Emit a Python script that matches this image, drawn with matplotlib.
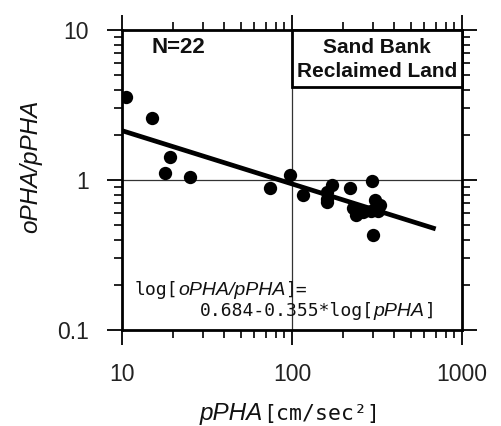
import matplotlib
matplotlib.use("Agg")
import matplotlib.pyplot as plt
from matplotlib.patches import Rectangle
from matplotlib.ticker import FixedLocator, NullFormatter
import numpy as np

# ---- data ----
pPHA = [10.6, 15.0, 19.1, 17.8, 25.0, 74.0, 97.0, 116, 171, 161, 161,
        218, 297, 306, 228, 237, 262, 293, 321, 299, 160, 328]
ratio = [3.59, 2.60, 1.43, 1.12, 1.04, 0.89, 1.08, 0.80, 0.93, 0.83, 0.71,
         0.89, 0.99, 0.74, 0.65, 0.58, 0.61, 0.62, 0.62, 0.43, 0.75, 0.68]
fit_a = 0.684
fit_b = -0.355
fit_x_range = [10, 700]
x_ticks = [10, 100, 1000]
x_ticklabels = ["10", "100", "1000"]
y_ticks = [0.1, 1, 10]
y_ticklabels = ["0.1", "1", "10"]
n_label = "N=22"
box_lines = ["Sand Bank", "Reclaimed Land"]

W, H = 502, 426
fig = plt.figure(figsize=(W / 100, H / 100), dpi=100)
ax = fig.add_axes([122 / W, 1 - 330 / H, 340 / W, 300 / H])

ax.set_xscale("log")
ax.set_yscale("log")
ax.set_xlim(10, 1000)
ax.set_ylim(0.1, 10)

# grid
ax.axvline(100, color="#333333", lw=0.9, zorder=1)
ax.axhline(1, color="#333333", lw=0.9, zorder=1)

# points
ax.scatter(pPHA, ratio, s=92, color="black", zorder=3, linewidths=0)

# regression line
xf = np.array(fit_x_range, dtype=float)
yf = 10 ** (fit_a + fit_b * np.log10(xf))
ax.plot(xf, yf, color="black", lw=3.4, zorder=2, solid_capstyle="butt")

# ticks
minor_x = [m * 10 ** e for e in (1, 2) for m in range(2, 10)]
minor_y = [m * 10 ** e for e in (-1, 0) for m in range(2, 10)]
ax.xaxis.set_major_locator(FixedLocator(x_ticks))
ax.xaxis.set_minor_locator(FixedLocator(minor_x))
ax.yaxis.set_major_locator(FixedLocator(y_ticks))
ax.yaxis.set_minor_locator(FixedLocator(minor_y))
ax.set_xticklabels(x_ticklabels)
ax.set_yticklabels(y_ticklabels)
ax.xaxis.set_minor_formatter(NullFormatter())
ax.yaxis.set_minor_formatter(NullFormatter())
ax.tick_params(which="both", direction="out", top=True, right=True,
               color="black")
ax.tick_params(which="major", length=11, width=1.3, pad=13,
               labelsize=16.5, labelcolor="#222222")
ax.tick_params(which="minor", length=6, width=1.2)
for lab in ax.get_xticklabels() + ax.get_yticklabels():
    lab.set_family("Liberation Sans")
for sp in ax.spines.values():
    sp.set_linewidth(2.0)

# N label
ax.text(0.088, 0.923, n_label, transform=ax.transAxes, fontsize=16,
        fontweight="bold", family="Liberation Sans", va="baseline",
        ha="left", color="#111111")

# box
ax.add_patch(Rectangle((0.5, 0.81), 0.5, 0.19, transform=ax.transAxes,
                       fill=True, facecolor="white", edgecolor="black",
                       lw=2.0, zorder=4, clip_on=False))
ax.text(0.75, 0.923, box_lines[0], transform=ax.transAxes, fontsize=15,
        fontweight="bold", family="Liberation Sans", va="baseline",
        ha="center", zorder=5, color="#111111")
ax.text(0.75, 0.843, box_lines[1], transform=ax.transAxes, fontsize=15,
        fontweight="bold", family="Liberation Sans", va="baseline",
        ha="center", zorder=5, color="#111111")

renderer = fig.canvas.get_renderer()

MONO = dict(family="DejaVu Sans Mono")
ITAL = dict(family="Liberation Sans", style="italic")


def chain(x, y, pieces, transform, size_mono, size_it, zorder=5):
    cx = x
    inv = transform.inverted()
    for s, kind in pieces:
        kw = MONO if kind == "m" else ITAL
        fs = size_mono if kind == "m" else size_it
        t = fig.text(cx, y, s, transform=transform, fontsize=fs,
                     va="baseline", ha="left", color="#111111",
                     zorder=zorder, **kw)
        bb = t.get_window_extent(renderer)
        cx = inv.transform((bb.x1, bb.y0))[0]


# equation
chain(0.038, 0.117, [("log[", "m"), ("oPHA/pPHA", "i"), ("]=", "m")],
      ax.transAxes, 13, 14)
chain(0.229, 0.047, [("0.684-0.355*log[", "m"), ("pPHA", "i"), ("]", "m")],
      ax.transAxes, 13, 14)

# x label
chain(200 / W, 6 / H, [("pPHA", "i"), ("[cm/sec²]", "m")],
      fig.transFigure, 15.5, 17.5)

# y label
fig.text(31 / W, 1 - 166 / H, "oPHA/pPHA", rotation=90, ha="center",
         va="center", fontsize=17.5, color="#111111", **ITAL)

fig.savefig("out.png", dpi=100)
